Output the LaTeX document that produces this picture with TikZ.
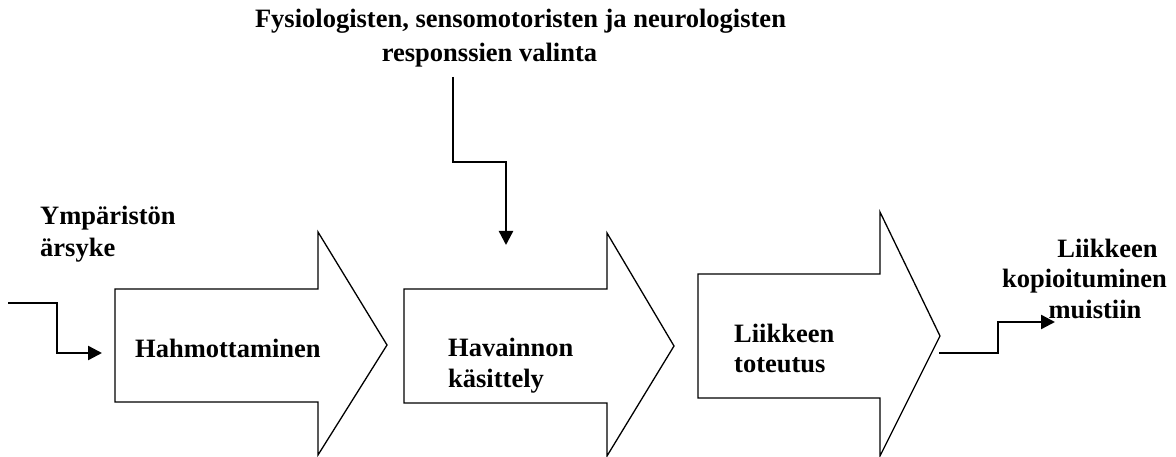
\documentclass[tikz,border=0pt]{standalone}
\usepackage{fontspec}
\setmainfont{Liberation Serif}
\usetikzlibrary{arrows.meta}
\begin{document}
\begin{tikzpicture}[x=1pt,y=-1pt,
  blk/.style={draw=black,line width=1.3pt,fill=white,line join=miter},
  conn/.style={draw=black,line width=2.4pt,-{Triangle[length=14pt,width=14pt]}},
  lbl/.style={font=\bfseries\fontsize{26.5}{31}\selectfont,inner sep=0pt,text=black}]
\useasboundingbox (0,0) rectangle (1176,457);
% block arrows
\draw[blk] (115,289) -- (318,289) -- (318,232) -- (387,345) -- (318,455) -- (318,402) -- (115,402) -- cycle;
\draw[blk] (404,289) -- (607,289) -- (607,233) -- (674,346) -- (607,456) -- (607,403) -- (404,403) -- cycle;
\draw[blk] (698,274) -- (880,274) -- (880,212) -- (940,336) -- (880,456) -- (880,398) -- (698,398) -- cycle;
% labels (base anchor = baseline of last line)
\node[lbl,anchor=base west,align=left,font=\bfseries\fontsize{26.5}{32}\selectfont] (ymp) at (40,257) {Ympäristön\\ärsyke};
\node[lbl,anchor=base west] (hah) at (135,357) {Hahmottaminen};
\node[lbl,anchor=base west,align=left] (hav) at (448,387) {Havainnon\\käsittely};
\node[lbl,anchor=base west,align=left,font=\bfseries\fontsize{26.5}{30}\selectfont] (lii) at (734,372) {Liikkeen\\toteutus};
\node[lbl,anchor=base,align=center,font=\bfseries\fontsize{26.5}{34}\selectfont] (top) at (520.5,62) {Fysiologisten, sensomotoristen ja neurologisten\\responssien valinta\hspace*{62pt}};
\node[lbl,anchor=base,align=center,font=\bfseries\fontsize{26.5}{30.5}\selectfont] (out) at (1084.5,318) {\hspace*{46pt}Liikkeen\\kopioituminen\\\hspace*{21pt}muistiin};
% connectors
\coordinate (inS) at (8,303);
\coordinate (inE) at (102,353);
\draw[conn] (inS) -- (57,303) -- (57,353) -- (inE);
\coordinate (topS) at (453,77);
\coordinate (topE) at (506,245);
\draw[conn] (topS) -- (453,162) -- (506,162) -- (topE);
\coordinate (outS) at (939,353);
\coordinate (outE) at (1055,322);
\draw[conn] (outS) -- (998,353) -- (998,322) -- (outE);
\end{tikzpicture}
\end{document}
